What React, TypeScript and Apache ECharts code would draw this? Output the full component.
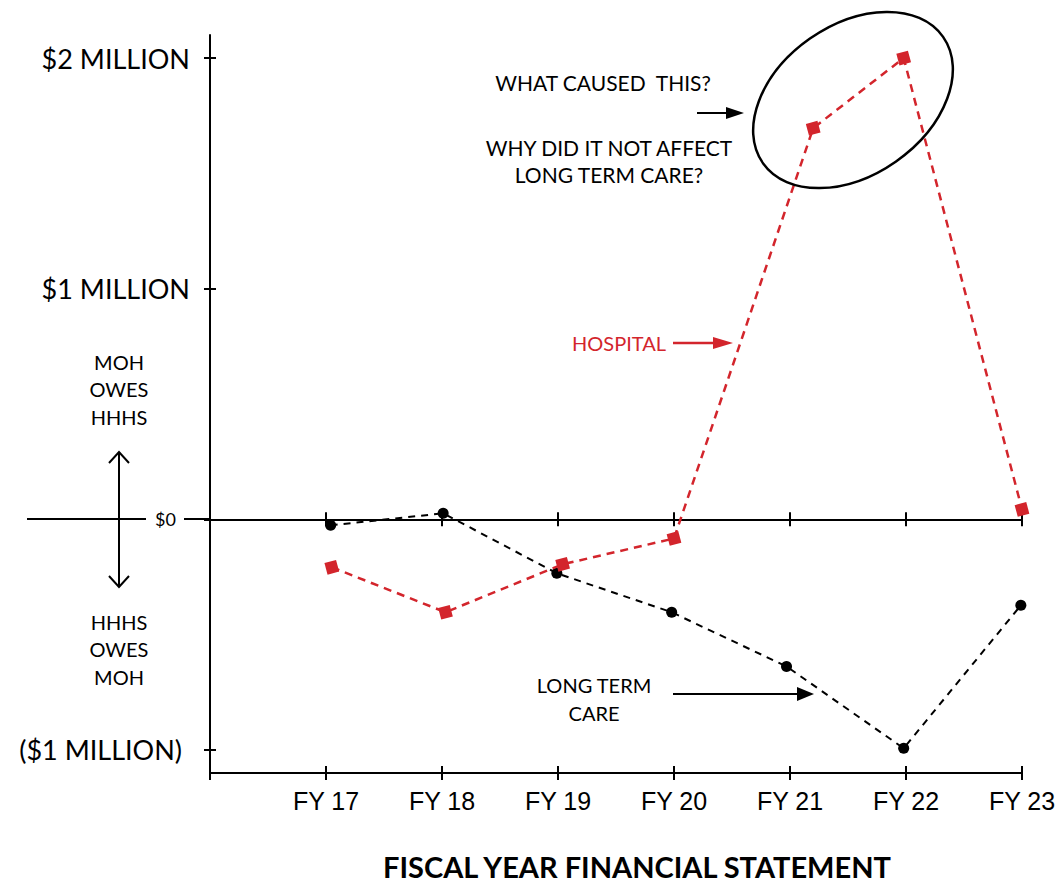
import React, { useEffect, useRef } from "react";
import * as echarts from "echarts";

const fiscalYears = [17, 18, 19, 20, 21, 22, 23];
const hospitalX = [17.05, 18.03, 19.04, 20.0, 21.2, 21.98, 23.0];
const hospitalValues = [-0.208, -0.403, -0.195, -0.083, 1.696, 2.0, 0.043];
const ltcX = [17.04, 18.01, 18.99, 19.98, 20.97, 21.98, 22.99];
const ltcValues = [-0.026, 0.026, -0.234, -0.403, -0.638, -0.993, -0.373];
const yTicks = [-1, 0, 1, 2];
const yTickLabels = ["($1 MILLION)", "$0", "$1 MILLION", "$2 MILLION"];

const RED = "#d3252c";
const FONT = "Lato";

export default function App() {
  const ref = useRef<HTMLDivElement>(null);
  useEffect(() => {
    document.body.style.margin = "0";
    const chart = echarts.init(ref.current!, null, { renderer: "svg" });
    const baseX = {
      type: "value",
      min: 16,
      max: 23,
      interval: 1,
      position: "bottom",
      splitLine: { show: false },
    };
    const line = (x1: number, y1: number, x2: number, y2: number, color = "#000", w = 2) => ({
      type: "line",
      shape: { x1, y1, x2, y2 },
      style: { stroke: color, lineWidth: w },
      z: 100,
    });
    const poly = (pts: number[][], color = "#000") => ({
      type: "polygon",
      shape: { points: pts },
      style: { fill: color },
      z: 100,
    });
    const text = (t: string, x: number, y: number, size: number, color = "#000", lh = 27.5) => ({
      type: "text",
      x,
      y,
      z: 100,
      style: {
        text: t,
        align: "center",
        verticalAlign: "middle",
        fontSize: size,
        fontFamily: FONT,
        fill: color,
        lineHeight: lh,
      },
    });
    const option: any = {
      animation: false,
      grid: { left: 210, right: 38, top: 35, bottom: 111, containLabel: false },
      xAxis: [
        {
          ...baseX,
          axisLine: { onZero: false, lineStyle: { color: "#000", width: 2 } },
          axisTick: { length: 7, lineStyle: { color: "#000", width: 2 } },
          axisLabel: {
            margin: 15,
            fontSize: 25,
            fontFamily: "Liberation Sans",
            color: "#000",
            formatter: (v: number) => (fiscalYears.indexOf(v) >= 0 ? "FY " + v : ""),
          },
        },
        {
          ...baseX,
          axisLine: { show: false, onZero: false },
          axisTick: { inside: true, length: 7, lineStyle: { color: "#000", width: 2 } },
          axisLabel: { show: false },
        },
        {
          ...baseX,
          axisLine: { onZero: true, lineStyle: { color: "#000", width: 2 } },
          axisTick: { length: 7, lineStyle: { color: "#000", width: 2 } },
          axisLabel: { show: false },
        },
        {
          ...baseX,
          axisLine: { show: false, onZero: true },
          axisTick: { inside: true, length: 7, lineStyle: { color: "#000", width: 2 } },
          axisLabel: { show: false },
        },
      ],
      yAxis: [
        {
          type: "value",
          min: -1.1,
          max: 2.1,
          position: "left",
          splitLine: { show: false },
          axisLine: { show: true, lineStyle: { color: "#000", width: 2 } },
          axisTick: { show: true, customValues: yTicks, length: 6, lineStyle: { color: "#000", width: 2 } },
          axisLabel: {
            customValues: yTicks,
            margin: 20,
            color: "#000",
            fontFamily: FONT,
            formatter: (v: number) => {
              const lbl = yTickLabels[yTicks.indexOf(v)] || "";
              if (v === 0) return "{z|" + lbl + "}";
              if (v < 0) return "{n|" + lbl + "}";
              return "{b|" + lbl + "}";
            },
            rich: {
              b: { fontSize: 27, fontFamily: FONT, color: "#000" },
              n: { fontSize: 27, fontFamily: FONT, color: "#000", padding: [0, 8, 0, 0] },
              z: { fontSize: 18, fontFamily: FONT, color: "#000", padding: [0, 14, 0, 0] },
            },
          },
        },
        {
          type: "value",
          min: -1.1,
          max: 2.1,
          position: "left",
          splitLine: { show: false },
          axisLine: { show: false },
          axisTick: { show: true, inside: true, customValues: yTicks, length: 6, lineStyle: { color: "#000", width: 2 } },
          axisLabel: { show: false },
        },
      ],
      series: [
        {
          name: "Long term care",
          type: "line",
          data: ltcX.map((x, i) => [x, ltcValues[i]]),
          symbol: "circle",
          symbolSize: 11,
          itemStyle: { color: "#000" },
          lineStyle: { color: "#000", width: 2, type: [7, 6] },
          z: 3,
        },
        {
          name: "Hospital",
          type: "line",
          data: hospitalX.map((x, i) => [x, hospitalValues[i]]),
          symbol: "rect",
          symbolSize: 12,
          symbolRotate: 15,
          itemStyle: { color: RED },
          lineStyle: { color: RED, width: 2.5, type: [8, 6] },
          z: 4,
        },
      ],
      graphic: [
        line(27, 519, 146, 519),
        line(184, 519, 210, 519),
        line(119, 452, 119, 587),
        {
          type: "polyline",
          shape: { points: [[109, 463], [119, 452], [129, 463]] },
          style: { stroke: "#000", lineWidth: 2, fill: "none" },
          z: 100,
        },
        {
          type: "polyline",
          shape: { points: [[109, 576], [119, 587], [129, 576]] },
          style: { stroke: "#000", lineWidth: 2, fill: "none" },
          z: 100,
        },
        text("MOH\nOWES\nHHHS", 119, 389, 20),
        text("HHHS\nOWES\nMOH", 119, 649, 20),
        text("WHAT CAUSED  THIS?", 603, 82, 21),
        text("WHY DID IT NOT AFFECT\nLONG TERM CARE?", 609, 161, 21),
        line(697, 113, 728, 113),
        poly([[726, 107], [744, 113], [726, 119]]),
        {
          type: "ellipse",
          x: 853,
          y: 100,
          rotation: (35 * Math.PI) / 180,
          shape: { cx: 0, cy: 0, rx: 110, ry: 75 },
          style: { fill: "none", stroke: "#000", lineWidth: 2.5 },
          z: 100,
        },
        text("HOSPITAL", 619, 343, 20, RED),
        line(673, 343, 716, 343, RED, 2.5),
        poly([[713, 337], [733, 343], [713, 349]], RED),
        text("LONG TERM\nCARE", 594, 699, 20),
        line(673, 694, 800, 694),
        poly([[797, 687], [814, 694], [797, 701]]),
        {
          type: "text",
          x: 637,
          y: 866,
          z: 100,
          style: {
            text: "FISCAL YEAR FINANCIAL STATEMENT",
            align: "center",
            verticalAlign: "middle",
            fontSize: 29,
            fontWeight: "bold",
            fontFamily: FONT,
            fill: "#000",
          },
        },
      ],
    };
    chart.setOption(option);
    return () => chart.dispose();
  }, []);
  return <div ref={ref} style={{ width: 1060, height: 884 }} />;
}
